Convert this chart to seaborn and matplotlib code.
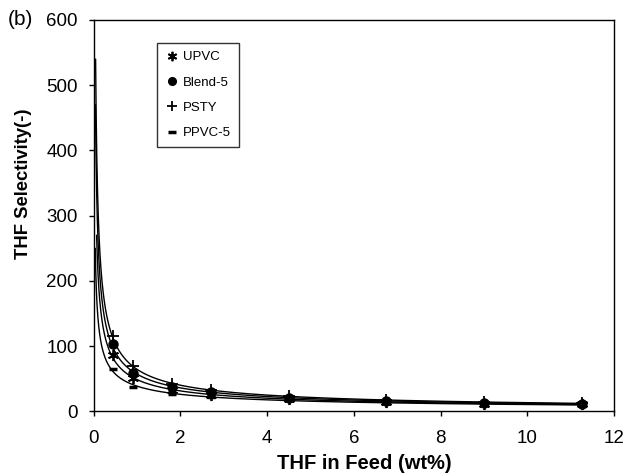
import numpy as np
import pandas as pd
import matplotlib
matplotlib.use('Agg')
import matplotlib.pyplot as plt
import seaborn as sns

# THF selectivity vs THF in feed
thf_feed = [0.45, 0.9, 1.8, 2.7, 4.5, 6.75, 9.0, 11.25]
upvc = [86, 51, 32, 25, 19, 14, 12, 11]
blend5 = [103, 59, 37, 29, 21, 16, 13, 12]
psty = [115, 69, 42, 32, 23, 17, 14, 13]
ppvc5 = [65, 38, 27, 22, 17, 13, 11, 10]
series_names = ['UPVC', 'Blend-5', 'PSTY', 'PPVC-5']
# where each power trendline starts at the top (y value at x -> 0)
curve_top = [270, 470, 540, 250]

sns.set_style('ticks', {'text.color': 'black', 'axes.labelcolor': 'black',
                        'xtick.color': 'black', 'ytick.color': 'black'})
plt.rcParams['font.family'] = ['Liberation Sans', 'DejaVu Sans']

fig = plt.figure(figsize=(6.37, 4.75), dpi=100)
ax = fig.add_axes([0.147, 0.134, 0.817, 0.824])

markers = [(6, 2, 0), 'o', '+', '_']
msizes = [8, 6.5, 8.5, 6]
mews = [1.3, 1, 1.3, 2.5]

for name, vals, top, mk, ms, mew in zip(series_names, [upvc, blend5, psty, ppvc5],
                                        curve_top, markers, msizes, mews):
    # power trendline y = a*x^b fitted to the points (like the excel one)
    b, loga = np.polyfit(np.log(thf_feed), np.log(vals), 1)
    a = np.exp(loga)
    x0 = (top / a) ** (1 / b)
    xs = np.geomspace(x0, thf_feed[-1], 400)
    fit = pd.DataFrame({'x': xs, 'y': a * xs ** b})
    sns.lineplot(data=fit, x='x', y='y', color='black', lw=1.0, ax=ax,
                 estimator=None, sort=False)
    pts = pd.DataFrame({'x': thf_feed, 'y': vals})
    sns.lineplot(data=pts, x='x', y='y', color='black', lw=0, marker=mk,
                 markersize=ms, markeredgewidth=mew, markeredgecolor='black',
                 markerfacecolor='black', label=name, ax=ax, estimator=None)

ax.set_xlim(0, 12)
ax.set_ylim(0, 600)
ax.set_xticks(range(0, 13, 2))
ax.set_yticks(range(0, 601, 100))
ax.tick_params(labelsize=13.5, length=3.6, width=1, color='black', direction='out')
ax.tick_params(axis='x', pad=9.9)
ax.tick_params(axis='y', pad=7.7)
for s in ax.spines.values():
    s.set_visible(True)
    s.set_color('black')
    s.set_linewidth(1)

ax.set_xlabel('THF in Feed (wt%)', fontsize=14.5, fontweight='bold')
ax.xaxis.set_label_coords(0.52, -0.108)
ax.xaxis.label.set_va('top')
ax.set_ylabel('THF Selectivity(-)', fontsize=13.3, fontweight='bold')
ax.yaxis.set_label_coords(-0.118, 0.582)

leg = ax.legend(loc='upper left', bbox_to_anchor=(0.122, 0.941), fontsize=9.5,
                frameon=True, fancybox=False, edgecolor='black', handlelength=1.0,
                handletextpad=0.35, labelspacing=1.0, borderpad=0.6,
                borderaxespad=0)
leg.get_frame().set_linewidth(1)
for h in leg.legend_handles:
    h.set_markersize(h.get_markersize() * 0.85)

fig.text(0.012, 0.958, '(b)', fontsize=15, va='center')

fig.savefig('out.png', dpi=100)
